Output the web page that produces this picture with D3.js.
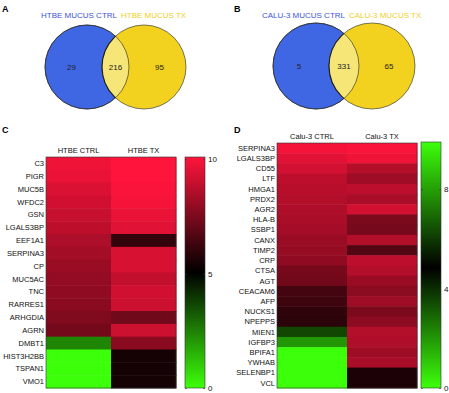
<!DOCTYPE html>
<html lang="en">
<head>
<meta charset="utf-8">
<title>Mucus proteome</title>
<script src="https://cdn.jsdelivr.net/npm/d3@7"></script>
<style>
  body { margin: 0; background: #fff; }
  svg { font-family: "Liberation Sans", Arial, sans-serif; }
</style>
</head>
<body>
<svg width="449" height="393"></svg>
<script>
// venn counts
const vennA = {labels: ["HTBE MUCUS CTRL", "HTBE MUCUS TX"], counts: [29, 216, 95]};
const vennB = {labels: ["CALU-3 MUCUS CTRL", "CALU-3 MUCUS TX"], counts: [5, 331, 65]};

// heatmap C
const genesC = ["C3","PIGR","MUC5B","WFDC2","GSN","LGALS3BP","EEF1A1","SERPINA3","CP","MUC5AC","TNC","RARRES1","ARHGDIA","AGRN","DMBT1","HIST3H2BB","TSPAN1","VMO1"];
const colsC = ["HTBE CTRL", "HTBE TX"];
const ctrlC = [9.7,9.6,9.3,9.1,8.9,8.7,8.4,8.2,8.0,7.9,7.8,7.7,7.5,7.3,2.4,0,0,0];
const txC   = [10,10,9.9,9.8,9.6,9.4,6.0,9.2,9.2,8.8,9.1,9.0,7.2,9.0,7.7,5.4,5.4,5.4];
const ticksC = [0, 5, 10];

// heatmap D
const genesD = ["SERPINA3","LGALS3BP","CD55","LTF","HMGA1","PRDX2","AGR2","HLA-B","SSBP1","CANX","TIMP2","CRP","CTSA","AGT","CEACAM6","AFP","NUCKS1","NPEPPS","MIEN1","IGFBP3","BPIFA1","YWHAB","SELENBP1","VCL"];
const colsD = ["Calu-3 CTRL", "Calu-3 TX"];
const ctrlD = [9.7,9.3,9.0,8.6,8.5,8.4,8.3,8.2,8.1,7.9,7.8,7.7,7.2,7.1,6.2,6.1,5.8,5.7,3.5,2.0,0,0,0,0];
const txD   = [9.8,9.6,8.4,8.0,8.6,8.2,9.0,7.3,7.2,8.4,6.5,8.6,8.4,7.9,7.6,8.0,7.3,7.6,8.4,8.3,8.0,8.2,5.4,5.4];
const ticksD = [0, 4, 8];

const svg = d3.select("svg");
const GREEN = "#3cff0a", BLACK = "#000", RED = "#ff143c";

// panel letters
svg.selectAll("text.letter")
  .data([["A",2,12],["B",234,12],["C",2,133],["D",234,133]])
  .enter().append("text")
  .attr("x", d => d[1]).attr("y", d => d[2])
  .style("font-size", "9px").style("font-weight", "bold")
  .text(d => d[0]);

function venn(v, cx1, cx2, cy, r, labelX) {
  const g = svg.append("g");
  g.append("circle").attr("cx", cx1).attr("cy", cy).attr("r", r)
    .attr("fill", "#3f67e3").attr("stroke", "#222").attr("stroke-width", 0.6);
  g.append("circle").attr("cx", cx2).attr("cy", cy).attr("r", r)
    .attr("fill", "#f3d21f").attr("stroke", "#222").attr("stroke-width", 0.6);
  const cp = "clip" + cx1;
  g.append("clipPath").attr("id", cp).append("circle").attr("cx", cx1).attr("cy", cy).attr("r", r);
  g.append("circle").attr("cx", cx2).attr("cy", cy).attr("r", r)
    .attr("clip-path", `url(#${cp})`)
    .attr("fill", "#f6e577").attr("stroke", "#222").attr("stroke-width", 1.2);
  g.append("circle").attr("cx", cx1).attr("cy", cy).attr("r", r)
    .attr("fill", "none").attr("stroke", "#222").attr("stroke-width", 0.6);
  const mid = (cx1 + cx2) / 2;
  const xs = [(cx1 - r + cx2 - r) / 2 - 2, mid, (cx1 + r + cx2 + r) / 2 + 2];
  g.selectAll("text.n").data(v.counts).enter().append("text")
    .attr("x", (d, i) => xs[i]).attr("y", cy + 3)
    .attr("text-anchor", "middle").style("font-size", "8px").attr("fill", "#222")
    .text(d => d);
  g.append("text").attr("x", labelX).attr("y", 18).attr("text-anchor", "end")
    .style("font-size", "8px").attr("fill", "#3d55d8").text(v.labels[0]);
  g.append("text").attr("x", labelX + 4).attr("y", 18)
    .style("font-size", "8px").attr("fill", "#f0cf22").text(v.labels[1]);
}
venn(vennA, 87, 144, 67, 42, 117);
venn(vennB, 316, 372, 66, 43, 345);

function heatmap(genes, cols, ctrl, tx, box, color, bar) {
  const y = d3.scaleBand().domain(genes).range([box.y0, box.y1]);
  const x = d3.scaleBand().domain(cols).range([box.x0, box.x1]);
  const g = svg.append("g");
  const cells = [];
  genes.forEach((gname, i) => {
    cells.push({g: gname, c: cols[0], v: ctrl[i]});
    cells.push({g: gname, c: cols[1], v: tx[i]});
  });
  g.selectAll("rect").data(cells).enter().append("rect")
    .attr("x", d => x(d.c)).attr("y", d => y(d.g))
    .attr("width", x.bandwidth() + 0.5).attr("height", y.bandwidth() + 0.5)
    .attr("fill", d => color(d.v));
  g.append("rect").attr("x", box.x0).attr("y", box.y0)
    .attr("width", box.x1 - box.x0).attr("height", box.y1 - box.y0)
    .attr("fill", "none").attr("stroke", "#333").attr("stroke-width", 0.6);
  g.selectAll("text.row").data(genes).enter().append("text")
    .attr("x", box.x0 - 2).attr("y", d => y(d) + y.bandwidth() / 2 + 2.7)
    .attr("text-anchor", "end").style("font-size", "7.5px").attr("fill", "#111")
    .text(d => d);
  g.selectAll("text.col").data(cols).enter().append("text")
    .attr("x", d => x(d) + x.bandwidth() / 2).attr("y", box.y0 - 4)
    .attr("text-anchor", "middle").style("font-size", "7.5px").attr("fill", "#111")
    .text(d => d);

  // colorbar
  const sy = d3.scaleLinear().domain(bar.domain).range([bar.y1, bar.y0]);
  const gid = "grad" + box.x0;
  const grad = svg.append("defs").append("linearGradient").attr("id", gid)
    .attr("x1", 0).attr("y1", 1).attr("x2", 0).attr("y2", 0);
  bar.stops.forEach(s => grad.append("stop").attr("offset", s[0]).attr("stop-color", s[1]));
  g.append("rect").attr("x", bar.x).attr("y", bar.y0).attr("width", bar.w)
    .attr("height", bar.y1 - bar.y0).attr("fill", `url(#${gid})`)
    .attr("stroke", "#333").attr("stroke-width", 0.6);
  const axis = d3.axisRight(sy).tickValues(bar.ticks).tickSize(bar.w).tickSizeOuter(0);
  const ag = g.append("g").attr("transform", `translate(${bar.x},0)`).call(axis);
  ag.select(".domain").remove();
  ag.selectAll(".tick line").attr("stroke", "#333").attr("stroke-width", 0.6)
    .attr("stroke-dasharray", `2,${bar.w - 4},2`);
  ag.selectAll(".tick text").attr("x", bar.w + 3).style("font-size", "8px")
    .style("font-family", "Liberation Sans, Arial, sans-serif").attr("fill", "#111");
}

const colorC = d3.scaleLinear().domain([0, 5, 10]).range([GREEN, BLACK, RED]).clamp(true);
heatmap(genesC, colsC, ctrlC, txC,
  {x0: 46, x1: 176, y0: 157, y1: 388}, colorC,
  {x: 185, w: 20, y0: 157, y1: 388, domain: [0, 10.1], ticks: ticksC,
   stops: [[0, GREEN], [0.5, BLACK], [1, RED]]});

const colorD = d3.scaleLinear().domain([0, 4.85, 9.9]).range([GREEN, BLACK, RED]).clamp(true);
heatmap(genesD, colsD, ctrlD, txD,
  {x0: 277, x1: 417, y0: 143, y1: 388}, colorD,
  {x: 421, w: 20, y0: 142, y1: 388, domain: [0, 9.9], ticks: ticksD,
   stops: [[0, GREEN], [0.49, BLACK], [1, GREEN]]});
</script>
</body>
</html>
